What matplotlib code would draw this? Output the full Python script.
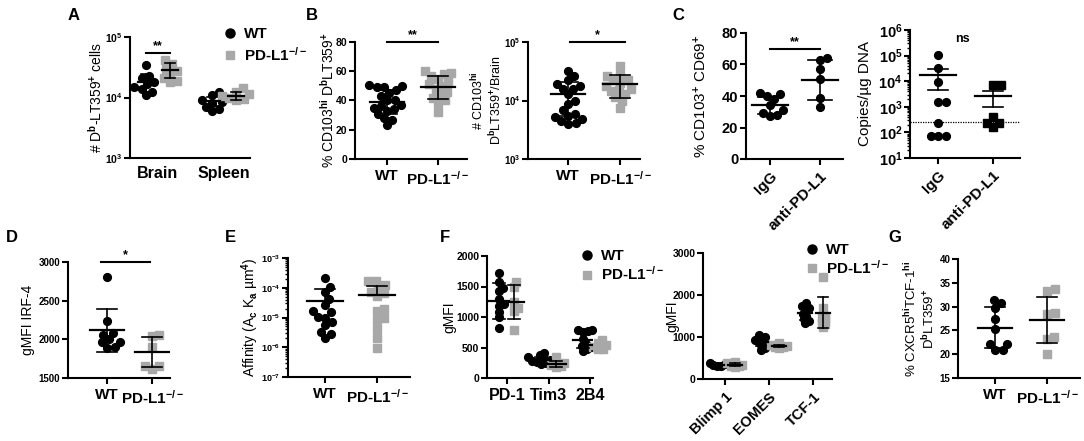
import numpy as np
import matplotlib
matplotlib.use("Agg")
import matplotlib.pyplot as plt
from matplotlib.lines import Line2D
from matplotlib.ticker import FixedLocator, FuncFormatter, LogLocator, NullFormatter, NullLocator

plt.rcParams["font.family"] = ["Liberation Sans", "DejaVu Sans"]
plt.rcParams["font.weight"] = "bold"
plt.rcParams["mathtext.fontset"] = "custom"
plt.rcParams["mathtext.rm"] = "Liberation Sans:bold"
plt.rcParams["mathtext.it"] = "Liberation Sans:bold"
plt.rcParams["mathtext.bf"] = "Liberation Sans:bold"
plt.rcParams["mathtext.sf"] = "Liberation Sans:bold"
plt.rcParams["mathtext.default"] = "rm"

GRAY = "#a8a8a8"
KO = "PD-L1$^{-/-}$"

# ---- data ----
# A: Db-LT359+ cells
a_groups = ["Brain", "Spleen"]
a_wt = [[3.5e4, 2.3e4, 2.1e4, 1.8e4, 1.7e4, 1.5e4, 1.4e4, 1.25e4, 1.1e4],
        [1.25e4, 1.1e4, 1.0e4, 9e3, 8.5e3, 8e3, 7e3, 6.5e3, 6e3]]
a_ko = [[4.2e4, 3.6e4, 3.0e4, 2.7e4, 2.4e4, 2.1e4, 1.9e4, 1.8e4],
        [1.42e4, 1.25e4, 1.15e4, 1.05e4, 1.0e4, 9.5e3, 9e3]]
a_mean_wt = [1.82e4, 8.7e3]
a_err_wt = [6e3, 1.5e3]
a_mean_ko = [2.9e4, 1.07e4]
a_err_ko = [8e3, 1.7e3]

# B: % and number of CD103hi
b1_wt = [50.5, 50, 49.5, 49, 47, 45, 43, 40.5, 40, 37, 36, 35, 34, 33, 31, 28, 27, 23]
b1_ko = [60, 59, 58, 57, 55, 53, 51, 50, 48, 46, 44, 42, 40, 38, 32]
b1_mean = [39, 49]
b1_err = [8.2, 7.9]
b2_wt = [3.2e4, 2.6e4, 2.2e4, 1.9e4, 1.8e4, 1.6e4, 1.6e4, 1.3e4, 1.0e4, 8.7e3,
         6.9e3, 5.8e3, 5.5e3, 5.2e3, 4.8e3, 4.5e3, 4.2e3, 4.0e3]
b2_ko = [3.9e4, 2.7e4, 2.6e4, 2.2e4, 2.2e4, 2.0e4, 1.8e4, 1.6e4, 1.5e4, 1.45e4,
         1.3e4, 1.15e4, 1.0e4, 7.5e3]
b2_mean = [1.29e4, 1.9e4]
b2_err = [7.5e3, 8e3]

# C: IgG vs anti-PD-L1
c_groups = ["IgG", "anti-PD-L1"]
c1_igg = [42, 41, 40, 38, 34, 31, 29, 28, 27]
c1_anti = [64, 63, 57, 51, 39, 33]
c1_mean = [34.1, 50.2]
c1_err = [5.5, 12.7]
c2_igg = [1.05e5, 3.2e4, 9.5e3, 1.6e3, 1.6e3, 230, 72, 72, 72]
c2_anti = [7.3e3, 7.1e3, 410, 240, 240, 166]
c2_mean = [1.7e4, 2.6e3]
c2_err = [1.25e4, 1.6e3]
c2_limit = 250

# D: IRF-4
d_wt = [2800, 2240, 2080, 2060, 2000, 1970, 1960, 1900, 1890]
d_ko = [2050, 2040, 1900, 1660, 1650, 1620]
d_mean = [2116, 1840]
d_err = [280, 195]

# E: affinity
e_wt = [2.1e-4, 1.1e-4, 7.4e-5, 4.2e-5, 2.6e-5, 1.6e-5, 1.5e-5, 1.07e-5, 1.0e-5,
        7.2e-6, 5.6e-6, 3.3e-6, 2.8e-6, 2.0e-6]
e_ko = [1.7e-4, 1.65e-4, 1.2e-4, 9.5e-5, 7.4e-5, 6.5e-5, 5.2e-5, 2e-5, 1.7e-5,
        1e-5, 8.3e-6, 4.1e-6, 2e-6, 9.5e-7]
e_mean = [3.5e-5, 5.7e-5]
e_err = [5.6e-5, 6e-5]

# F: gMFI of markers
f1_groups = ["PD-1", "Tim3", "2B4"]
f1_wt = [[1716, 1580, 1480, 1420, 1300, 1220, 1180, 1090, 995, 815],
         [410, 380, 340, 310, 290, 280, 270, 250, 230],
         [790, 780, 770, 760, 640, 560, 520, 470, 440]]
f1_ko = [[1580, 1500, 1250, 1150, 1100, 790],
         [340, 250, 210, 190, 175],
         [620, 580, 540, 510, 480, 470]]
f1_mean_wt = [1262, 295, 620]
f1_err_wt = [295, 55, 130]
f1_mean_ko = [1250, 230, 535]
f1_err_ko = [280, 55, 88]

f2_groups = ["Blimp 1", "EOMES", "TCF-1"]
f2_wt = [[380, 360, 340, 320, 300],
         [1040, 990, 960, 920, 880, 850, 800, 740, 700],
         [1800, 1750, 1700, 1680, 1550, 1500, 1420, 1380, 1330]]
f2_ko = [[400, 370, 340, 320, 300, 290],
         [850, 810, 790, 770, 760, 750],
         [2420, 1680, 1500, 1450, 1400, 1350, 1300, 1230]]
f2_mean_wt = [340, 890, 1560]
f2_err_wt = [30, 100, 150]
f2_mean_ko = [345, 785, 1580]
f2_err_ko = [40, 30, 370]

# G: CXCR5hi TCF-1hi
g_wt = [31.4, 30.7, 29.8, 27.3, 25.2, 22.1, 22.1, 20.9, 20.9]
g_ko = [33.6, 33.3, 28.7, 28.4, 23.7, 23.1, 20.0]
g_mean = [25.6, 27.2]
g_err = [4.3, 4.8]

W, H = 1084, 441
fig = plt.figure(figsize=(W / 100, H / 100), dpi=100)


def make_ax(x0, y0, x1, y1):
    ax = fig.add_axes([x0 / W, 1 - y1 / H, (x1 - x0) / W, (y1 - y0) / H])
    ax.spines[["top", "right"]].set_visible(False)
    for s in ["left", "bottom"]:
        ax.spines[s].set_linewidth(1.5)
    ax.tick_params(width=1.5, length=4)
    ax.tick_params(axis="y", pad=1.5)
    return ax


def px_per_unit(ax):
    yref = ax.get_ylim()[1]
    p0 = ax.transData.transform((0, yref))
    p1 = ax.transData.transform((1, yref))
    return p1[0] - p0[0]


def swarm(ax, xc, vals, d_px):
    """simple beeswarm: spread points sideways so they don't overlap"""
    vals = np.asarray(vals, dtype=float)
    ys = ax.transData.transform(np.column_stack([np.full(len(vals), xc), vals]))[:, 1]
    offs = np.zeros(len(vals))
    placed = []
    for i in np.argsort(ys):
        y = ys[i]
        cands = [0.0]
        for px, py in placed:
            dy = y - py
            if abs(dy) < d_px:
                dx = np.sqrt(d_px ** 2 - dy ** 2)
                cands += [px + dx, px - dx]
        cands.sort(key=abs)
        for c in cands:
            if all((c - px) ** 2 + (y - py) ** 2 >= d_px ** 2 - 1e-6 for px, py in placed):
                break
        offs[i] = c
        placed.append((c, y))
    return xc + offs / px_per_unit(ax)


def group(ax, xc, vals, mean, err, color="k", marker="o", ms=5.6, d_px=7.5,
          mean_px=17, cap_px=10):
    xs = swarm(ax, xc, vals, d_px)
    ax.plot(xs, vals, ls="none", marker=marker, color=color, ms=ms, zorder=2,
            clip_on=False)
    ppu = px_per_unit(ax)
    hm, hc = mean_px / ppu, cap_px / ppu
    lo = mean - err
    if lo <= 0 and ax.get_yscale() == "log":
        lo = mean
    ax.plot([xc - hm, xc + hm], [mean, mean], color="k", lw=1.6, zorder=3)
    ax.plot([xc, xc], [lo, mean + err], color="k", lw=1.2, zorder=3)
    ax.plot([xc - hc, xc + hc], [mean + err, mean + err], color="k", lw=1.2, zorder=3)
    if lo != mean:
        ax.plot([xc - hc, xc + hc], [lo, lo], color="k", lw=1.2, zorder=3)


def sig(ax, x0, x1, y, text, size=10):
    ax.plot([x0, x1], [y, y], color="k", lw=1.5, clip_on=False)
    ax.annotate(text, xy=((x0 + x1) / 2, y), xytext=(0, 0.5),
                textcoords="offset points", ha="center", va="bottom", fontsize=size)


def log_axis(ax, lo, hi, size, minor=False):
    ax.set_yscale("log")
    ax.set_ylim(lo, hi)
    ax.yaxis.set_major_locator(LogLocator(base=10, numticks=12))
    ax.yaxis.set_major_formatter(
        FuncFormatter(lambda v, p: "10$^{%d}$" % int(round(np.log10(v)))))
    if minor:
        ax.yaxis.set_minor_locator(LogLocator(base=10, subs=np.arange(2, 10), numticks=100))
        ax.tick_params(axis="y", which="minor", length=2.5, width=1.0)
    else:
        ax.yaxis.set_minor_locator(NullLocator())
    ax.yaxis.set_minor_formatter(NullFormatter())
    ax.tick_params(axis="y", labelsize=size)


def cats(ax, labels, lim, size=11, rot=0, ticks=True):
    ax.set_xlim(*lim)
    ax.xaxis.set_major_locator(FixedLocator(range(len(labels))))
    if rot:
        ax.set_xticklabels(labels, rotation=rot, ha="right", rotation_mode="anchor",
                           fontsize=size)
    else:
        ax.set_xticklabels(labels, fontsize=size)
    if not ticks:
        ax.tick_params(axis="x", length=0, pad=6)


def ylab(ax, text, off_px, size=10):
    ax.set_ylabel(text, fontsize=size, va="center", linespacing=1.05)
    w = ax.get_position().width * W
    ax.yaxis.set_label_coords(-off_px / w, 0.5)


def legend(ax, x_px, y_px, spacing=0.15):
    handles = [Line2D([], [], ls="none", marker="o", color="k", ms=6.5, label="WT"),
               Line2D([], [], ls="none", marker="s", color=GRAY, ms=6, label=KO)]
    ax.legend(handles=handles, loc="upper left", bbox_to_anchor=(x_px / W, 1 - y_px / H),
              bbox_transform=fig.transFigure, frameon=False, fontsize=11,
              handlelength=0.8, handletextpad=0.5, labelspacing=spacing,
              borderaxespad=0, borderpad=0)


def letter(x, y, s):
    fig.text(x / W, 1 - y / H, s, fontsize=12, ha="center", va="center")


# ---- A ----
ax = make_ax(130, 37, 250, 158)
log_axis(ax, 1e3, 1e5, 7.5)
cats(ax, a_groups, (-0.42, 1.39), size=11.5, ticks=False)
for i in range(2):
    group(ax, i - 0.185, a_wt[i], a_mean_wt[i], a_err_wt[i], mean_px=8, cap_px=5)
    group(ax, i + 0.185, a_ko[i], a_mean_ko[i], a_err_ko[i], color=GRAY, marker="s",
          ms=5.2, mean_px=8, cap_px=5)
sig(ax, -0.185, 0.185, 5.4e4, "**", 9)
ylab(ax, "# D$^{b}$-LT359$^{+}$ cells", 34)
legend(ax, 224, 27, spacing=0.3)

# ---- B ----
ax = make_ax(355, 42, 467, 159)
ax.set_ylim(0, 80)
ax.yaxis.set_major_locator(FixedLocator([0, 20, 40, 60, 80]))
ax.tick_params(axis="y", labelsize=7.5)
cats(ax, ["WT", KO], (-0.63, 1.57))
group(ax, 0, b1_wt, b1_mean[0], b1_err[0])
group(ax, 1, b1_ko, b1_mean[1], b1_err[1], color=GRAY, marker="s", ms=5.2)
sig(ax, 0, 1, 80, "**", 9)
ylab(ax, "% CD103$^{hi}$ D$^{b}$LT359$^{+}$", 27)

ax = make_ax(528, 42, 640, 159)
log_axis(ax, 1e3, 1e5, 7)
cats(ax, ["WT", KO], (-0.77, 1.38))
group(ax, 0, b2_wt, b2_mean[0], b2_err[0])
group(ax, 1, b2_ko, b2_mean[1], b2_err[1], color=GRAY, marker="s", ms=5.2)
sig(ax, 0.04, 1.1, 1e5, "*", 9)
ylab(ax, "# CD103$^{hi}$\nD$^{b}$LT359$^{+}$/Brain", 41, size=9)

# ---- C ----
ax = make_ax(746, 33, 843, 159)
ax.set_ylim(0, 80)
ax.yaxis.set_major_locator(FixedLocator([0, 20, 40, 60, 80]))
ax.tick_params(axis="y", labelsize=10.5)
cats(ax, c_groups, (-0.48, 1.46), size=11, rot=45)
group(ax, 0, c1_igg, c1_mean[0], c1_err[0], mean_px=18, cap_px=12)
group(ax, 1, c1_anti, c1_mean[1], c1_err[1], mean_px=18, cap_px=12)
sig(ax, 0, 1, 70, "**", 9)
ylab(ax, "% CD103$^{+}$ CD69$^{+}$", 45, size=11)

ax = make_ax(910, 30, 1020, 158)
log_axis(ax, 1e1, 1e6, 10.5, minor=True)
cats(ax, c_groups, (-0.51, 1.49), size=11, rot=45)
group(ax, 0, c2_igg, c2_mean[0], c2_err[0], mean_px=18, cap_px=10)
group(ax, 1, c2_anti, c2_mean[1], c2_err[1], marker="s", ms=5.4, mean_px=18, cap_px=10)
ax.axhline(c2_limit, color="k", lw=0.9, ls=(0, (1, 1)), zorder=1)
ax.text(0.44, 4.5e5, "ns", ha="center", va="center", fontsize=9)
ylab(ax, "Copies/µg DNA", 45, size=11)

# ---- D ----
ax = make_ax(68, 262, 170, 378)
ax.set_ylim(1500, 3000)
ax.yaxis.set_major_locator(FixedLocator([1500, 2000, 2500, 3000]))
ax.tick_params(axis="y", labelsize=7)
cats(ax, ["WT", KO], (-0.87, 1.4))
group(ax, 0, d_wt, d_mean[0], d_err[0])
group(ax, 1, d_ko, d_mean[1], d_err[1], color=GRAY, marker="s", ms=5.2)
sig(ax, -0.13, 0.96, 3000, "*", 9)
ylab(ax, "gMFI IRF-4", 40)

# ---- E ----
ax = make_ax(288, 258, 410, 377)
log_axis(ax, 1e-7, 1e-3, 6.5, minor=True)
cats(ax, ["WT", KO], (-0.71, 1.63))
group(ax, 0, e_wt, e_mean[0], e_err[0], mean_px=18)
group(ax, 1, e_ko, e_mean[1], e_err[1], color=GRAY, marker="s", ms=5.2, mean_px=18)
ylab(ax, "Affinity (A$_{c}$ K$_{a}$ µm$^{4}$)", 38, size=10)

# ---- F ----
ax = make_ax(487, 256, 593, 378)
ax.set_ylim(0, 2000)
ax.yaxis.set_major_locator(FixedLocator([0, 500, 1000, 1500, 2000]))
ax.tick_params(axis="y", labelsize=7.5)
cats(ax, f1_groups, (-0.48, 2.07), size=11.5)
for i in range(3):
    group(ax, i - 0.18, f1_wt[i], f1_mean_wt[i], f1_err_wt[i], d_px=5, mean_px=10, cap_px=6)
    group(ax, i + 0.18, f1_ko[i], f1_mean_ko[i], f1_err_ko[i], color=GRAY, marker="s",
          ms=5.2, d_px=5, mean_px=10, cap_px=6)
ylab(ax, "gMFI", 38)
legend(ax, 581, 249, spacing=0.15)

ax = make_ax(703, 253, 832, 379)
ax.set_ylim(0, 3000)
ax.yaxis.set_major_locator(FixedLocator([0, 1000, 2000, 3000]))
ax.tick_params(axis="y", labelsize=7.5)
cats(ax, f2_groups, (-0.5, 2.43), size=10.5, rot=45)
for i in range(3):
    group(ax, i - 0.18, f2_wt[i], f2_mean_wt[i], f2_err_wt[i], d_px=4, mean_px=7, cap_px=5)
    group(ax, i + 0.22, f2_ko[i], f2_mean_ko[i], f2_err_ko[i], color=GRAY, marker="s",
          ms=5.2, d_px=4, mean_px=7, cap_px=5)
ylab(ax, "gMFI", 31)
legend(ax, 806, 243, spacing=0.1)

# ---- G ----
ax = make_ax(958, 259, 1080, 378)
ax.set_ylim(15, 40)
ax.yaxis.set_major_locator(FixedLocator([15, 20, 25, 30, 35, 40]))
ax.tick_params(axis="y", labelsize=7)
cats(ax, ["WT", KO], (-0.71, 1.63))
group(ax, 0, g_wt, g_mean[0], g_err[0])
group(ax, 1, g_ko, g_mean[1], g_err[1], color=GRAY, marker="s", ms=5.2)
ylab(ax, "% CXCR5$^{hi}$TCF-1$^{hi}$\nD$^{b}$LT359$^{+}$", 38, size=9.5)

for x, y, s in [(74, 15, "A"), (312, 15, "B"), (678, 15, "C"), (12, 238, "D"),
                (230, 238, "E"), (445, 238, "F"), (895, 238, "G")]:
    letter(x, y, s)

fig.savefig("out.png", dpi=100)
